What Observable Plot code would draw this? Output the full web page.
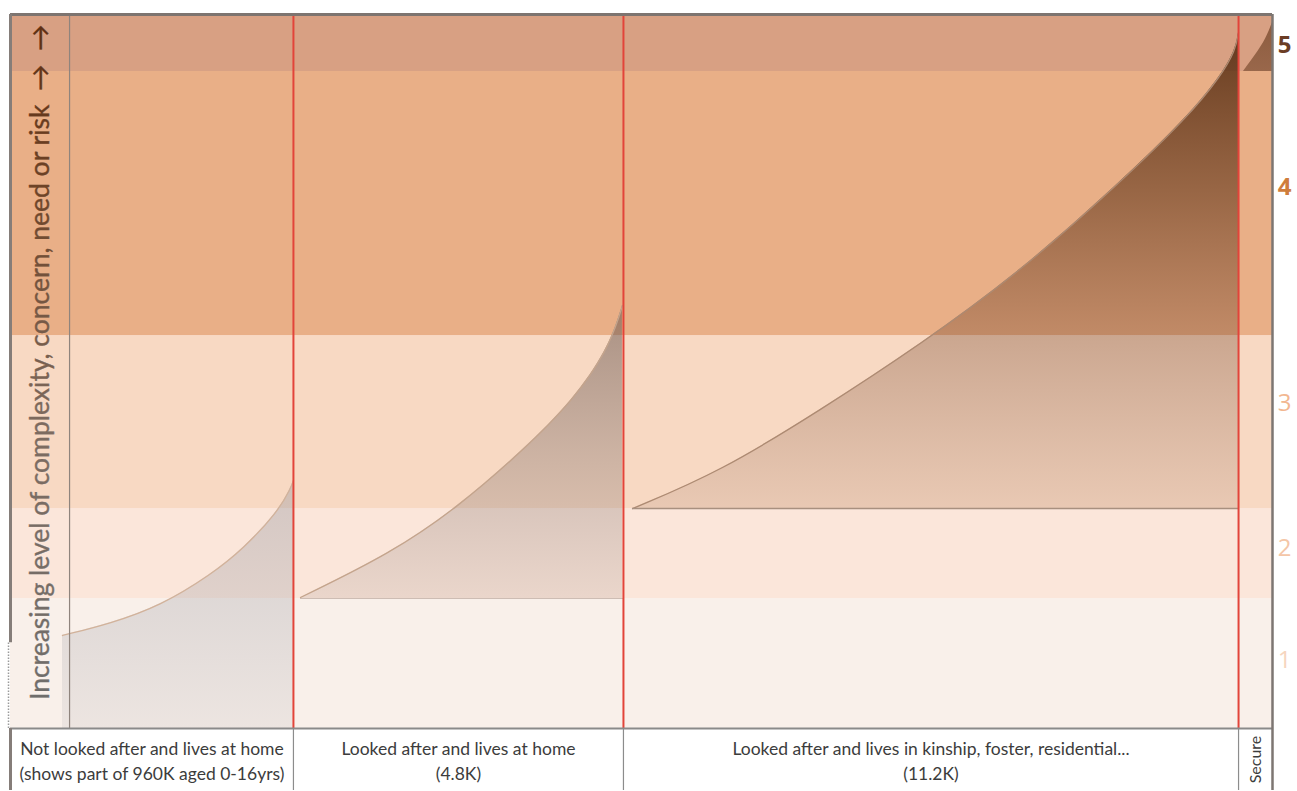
<!DOCTYPE html>
<html>
<head>
<meta charset="utf-8">
<script src="https://cdn.jsdelivr.net/npm/d3@7"></script>
<script src="https://cdn.jsdelivr.net/npm/@observablehq/plot@0.6"></script>
<style>
  html, body { margin: 0; padding: 0; background: #ffffff; }
  #chart svg { display: block; }
</style>
</head>
<body>
<div id="chart"></div>
<script>
// ---------------- DATA ----------------
// vertical scale: "level of complexity" 0 (bottom of chart) .. 100 (top)
const levels      = [1, 2, 3, 4, 5];
const levelFloor  = [0, 18.21, 30.81, 55.04, 92.02];
const levelCeil   = [18.21, 30.81, 55.04, 92.02, 100];
const levelLabelY = [9.52, 25.21, 45.52, 75.77, 95.66];
const levelStrong = [false, false, false, true, true];

// horizontal scale: share of width 0..100
const groupNames = [
  "Not looked after and lives at home\n(shows part of 960K aged 0-16yrs)",
  "Looked after and lives at home\n(4.8K)",
  "Looked after and lives in kinship, foster, residential...\n(11.2K)",
  "Secure"
];
const groupStart = [0, 22.42, 48.57, 97.31];
const groupEnd   = [22.42, 48.57, 97.31, 100];
const titleColumnEnd = 4.68;
const axisTitle = "Increasing level of complexity, concern, need or risk  \u2192  \u2192";

// curves of need within each group
const curve1X = [4.12, 7.92, 11.89, 15.85, 18.46, 21.16, 22.19, 22.42];
const curve1Y = [13.03, 14.71, 17.2, 21.5, 25.2, 30.3, 33.6, 34.73];
const curve1Base = 0;

const curve2X = [22.98, 30.11, 35.42, 40.65, 44.61, 47.31, 48.34, 48.49];
const curve2Y = [18.35, 24.51, 30.95, 39.0, 46.0, 53.0, 58.3, 59.24];
const curve2Base = 18.21;

const curve3X = [49.29, 56.26, 64.18, 72.11, 80.03, 87.96, 93.26, 95.88, 97.07, 97.31];
const curve3Y = [30.81, 35.99, 44.6, 53.78, 64.0, 76.5, 85.6, 91.3, 95.0, 97.48];
const curve3Base = 30.81;

const curve4X = [97.70, 98.65, 99.52, 100];
const curve4Y = [92.02, 94.26, 96.64, 98.88];
const curve4Base = 92.02;

// ---------------- STYLES ----------------
const bandColors  = ["#f9f0ea", "#fbe6da", "#f8d9c3", "#e9af87", "#d8a083"];
const labelColors = ["#f6d5be", "#f4c6a7", "#f2b791", "#cf7d3c", "#6b3d25"];
const FONT = "Lato, 'Open Sans', sans-serif";
const NUMFONT = "'Open Sans', Lato, sans-serif";
const CURVE = "basis";

// ---------------- TABLES ----------------
const bands = levels.map((l, i) => ({level: l, y1: levelFloor[i], y2: levelCeil[i], color: bandColors[i]}));
const levelLabels = levels.map((l, i) => ({level: l, y: levelLabelY[i], color: labelColors[i], strong: levelStrong[i]}));
const toPts = (xs, ys) => xs.map((x, i) => ({x, y: ys[i]}));
const seg1 = toPts(curve1X, curve1Y);
const seg2 = toPts(curve2X, curve2Y);
const seg3 = toPts(curve3X, curve3Y);
const seg4 = toPts(curve4X, curve4Y);
const groups = groupNames.map((name, i) => ({name, start: groupStart[i], end: groupEnd[i], mid: (groupStart[i] + groupEnd[i]) / 2}));
const dividers = groupEnd.slice(0, 3);

const yMin = -8.68;

// gradient definitions (a function mark)
function defs() {
  const d = d3.create("svg:defs");
  const grad = (id, stops, horizontal) => {
    const g = d.append("linearGradient").attr("id", id)
      .attr("x1", 0).attr("y1", 0)
      .attr("x2", horizontal ? 1 : 0).attr("y2", horizontal ? 0 : 1);
    stops.forEach(([o, c, a]) => g.append("stop").attr("offset", o).attr("stop-color", c).attr("stop-opacity", a));
  };
  grad("g1", [[0, "#9a9aa2", 0.42], [1, "#a0a0a8", 0.14]]);
  grad("g2", [[0, "#6e5a52", 0.58], [0.5, "#7a6a66", 0.35], [1, "#8a7a76", 0.15]]);
  grad("g3", [[0, "#4a2208", 0.82], [0.35, "#5a2e12", 0.55], [0.62, "#6a3a20", 0.33], [1, "#7a5040", 0.12]]);
  grad("g4", [[0, "#5a2e12", 0.6], [1, "#5a2e12", 0.5]]);
  grad("titleGrad", [[0, "#6f6d6b", 1], [0.4, "#7d6b60", 1], [0.75, "#6e4428", 1], [1, "#5e2e12", 1]], true);
  return d.node();
}

const numberOpts = {
  x: 100, y: "y", text: d => String(d.level), dx: 12,
  fill: "color", fontSize: 24, fontFamily: NUMFONT, textAnchor: "middle"
};

const chart = Plot.plot({
  width: 1297,
  height: 791,
  marginTop: 14,
  marginRight: 25,
  marginBottom: 1,
  marginLeft: 10,
  x: {domain: [0, 100], axis: null},
  y: {domain: [yMin, 100], axis: null},
  color: {type: "identity"},
  style: {background: "#ffffff", overflow: "visible"},
  marks: [
    defs,
    // level bands
    Plot.rect(bands, {x1: 0, x2: 100, y1: "y1", y2: "y2", fill: "color"}),
    // shaded need areas
    Plot.areaY(seg1, {x: "x", y1: curve1Base, y2: "y", fill: "url(#g1)", curve: CURVE}),
    Plot.areaY(seg2, {x: "x", y1: curve2Base, y2: "y", fill: "url(#g2)", curve: CURVE}),
    Plot.areaY(seg3, {x: "x", y1: curve3Base, y2: "y", fill: "url(#g3)", curve: CURVE}),
    Plot.areaY(seg4, {x: "x", y1: curve4Base, y2: "y", fill: "url(#g4)", curve: CURVE}),
    // curve outlines
    Plot.line(seg1, {x: "x", y: "y", stroke: "#d2b29a", strokeWidth: 1.3, curve: CURVE}),
    Plot.line(seg2, {x: "x", y: "y", stroke: "#c4a48c", strokeWidth: 1.3, curve: CURVE}),
    Plot.line(seg3, {x: "x", y: "y", stroke: "#ad8a72", strokeWidth: 1.3, curve: CURVE}),
    // base lines of shaded areas
    Plot.ruleY([curve2Base], {x1: curve2X[0], x2: groupEnd[1], stroke: "#cdbdb4", strokeWidth: 1.2}),
    Plot.ruleY([curve3Base], {x1: curve3X[0], x2: groupEnd[2], stroke: "#a8907f", strokeWidth: 1.4}),
    // title column divider
    Plot.ruleX([titleColumnEnd], {y1: 0, y2: 100, stroke: "#8f847d", strokeWidth: 1.2}),
    // red group dividers in the chart
    Plot.ruleX(dividers, {y1: 0, y2: 100, stroke: "#e2443a", strokeWidth: 2}),
    // grey dividers in the label row
    Plot.ruleX(dividers, {y1: yMin, y2: 0, stroke: "#8c8c8c", strokeWidth: 1.2}),
    // frame
    Plot.ruleY([0], {x1: 0, x2: 100, stroke: "#8a8a8a", strokeWidth: 2}),
    Plot.ruleY([100], {x1: 0, x2: 100, stroke: "#7d7470", strokeWidth: 3}),
    Plot.ruleX([0], {y1: 12, y2: 100, stroke: "#857d79", strokeWidth: 3}),
    Plot.ruleX([0], {y1: 0, y2: 12, stroke: "#9a9a9a", strokeWidth: 1.5, strokeDasharray: "1.5,1.5", dx: -2}),
    Plot.ruleX([0], {y1: yMin, y2: 0, stroke: "#857d79", strokeWidth: 3}),
    Plot.ruleX([100], {y1: yMin, y2: 100, stroke: "#7d7672", strokeWidth: 2.5}),
    // axis title
    Plot.text([axisTitle], {
      x: titleColumnEnd / 2 + 0.05, y: 51.3, text: d => d, rotate: -90,
      fontSize: 26.5, fontFamily: FONT, fill: "url(#titleGrad)", textAnchor: "middle",
      stroke: "url(#titleGrad)", strokeWidth: 0.35
    }),
    // level numbers on the right
    Plot.text(levelLabels.filter(d => !d.strong), {...numberOpts, fontWeight: "normal"}),
    Plot.text(levelLabels.filter(d => d.strong), {...numberOpts, fontWeight: "bold"}),
    // group labels
    Plot.text(groups.slice(0, 3), {
      x: "mid", y: yMin / 2, text: "name", fontSize: 17.5, lineHeight: 1.43,
      fontFamily: FONT, fill: "#3c3c3c", textAnchor: "middle"
    }),
    Plot.text(groups.slice(3), {
      x: "mid", y: yMin / 2, text: "name", rotate: -90, fontSize: 16,
      fontFamily: FONT, fill: "#3c3c3c", textAnchor: "middle"
    })
  ]
});

document.getElementById("chart").appendChild(chart);
</script>
</body>
</html>
